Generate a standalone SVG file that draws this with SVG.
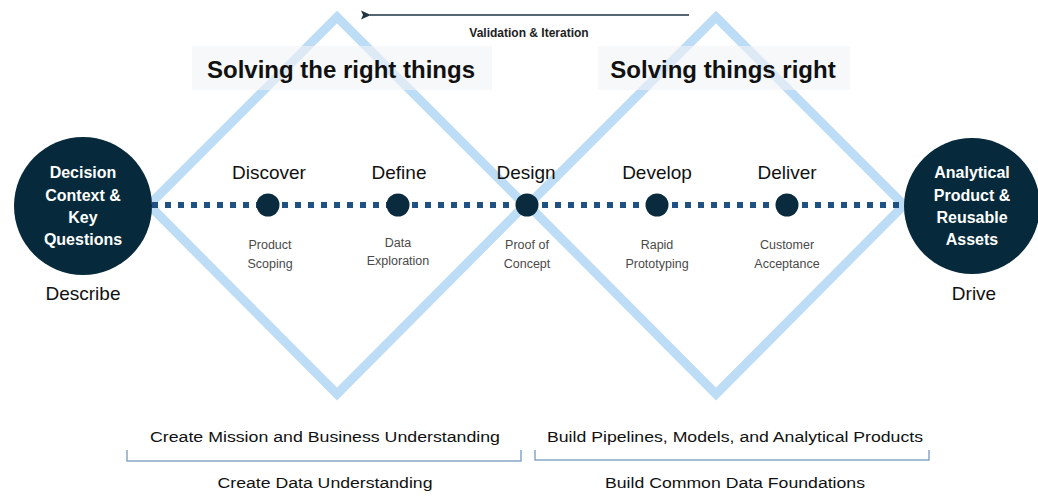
<svg xmlns="http://www.w3.org/2000/svg" width="1038" height="498" viewBox="0 0 1038 498">
<style>
text{font-family:"Liberation Sans",Arial,sans-serif;fill:#111;text-anchor:middle}
.diamond{fill:none;stroke:#bddcf6;stroke-width:9;stroke-linejoin:miter}
.titlebox{fill:#f1f4f7;opacity:0.6}
.title{font-size:24px;font-weight:bold}
.big{fill:#062a3b}
.bigtxt{fill:#fff;font-size:16px;font-weight:bold}
.dot{fill:#0a2a3d}
.phase{font-size:19px}
.sub{font-size:12.5px;fill:#4a4a4a}
.foot{font-size:19px}
.bottom{font-size:15.5px}
.bracket{fill:none;stroke:#86a6c6;stroke-width:1.5}
</style>
<defs>
<marker id="ah" viewBox="0 0 10 10" refX="1" refY="5" markerWidth="11" markerHeight="10" markerUnits="userSpaceOnUse" orient="auto">
<path d="M0,5 L10,0.5 L8,5 L10,9.5 Z" fill="#1e3544"/>
</marker>
</defs>
<rect width="1038" height="498" fill="#fff"/>
<g id="diamonds">
<polygon class="diamond" points="337,17 525,205 337,394 149,205"/>
<polygon class="diamond" points="716,17 904,205 716,394 528,205"/>
</g>
<g id="title-left">
<rect class="titlebox" x="192" y="46" width="300" height="44"/>
<text class="title" x="341" y="78">Solving the right things</text>
</g>
<g id="title-right">
<rect class="titlebox" x="598" y="46" width="252" height="44"/>
<text class="title" x="723" y="78">Solving things right</text>
</g>
<g id="connectors">
<line x1="152" y1="205" x2="905" y2="205" stroke="#1f5283" stroke-width="6" stroke-dasharray="6 7"/>
<line x1="689" y1="15" x2="370" y2="15" stroke="#1e3544" stroke-width="1.6" marker-end="url(#ah)"/>
<text x="529" y="37" style="font-size:12px;font-weight:bold;fill:#222">Validation &amp; Iteration</text>
</g>
<g id="node-describe">
<circle class="big" cx="83" cy="206" r="69"/>
<text class="bigtxt" x="83" y="178">Decision</text>
<text class="bigtxt" x="83" y="201">Context &amp;</text>
<text class="bigtxt" x="83" y="223">Key</text>
<text class="bigtxt" x="83" y="245">Questions</text>
<text class="foot" x="83" y="300">Describe</text>
</g>
<g id="node-drive">
<circle class="big" cx="972" cy="206" r="68"/>
<text class="bigtxt" x="972" y="178">Analytical</text>
<text class="bigtxt" x="972" y="201">Product &amp;</text>
<text class="bigtxt" x="972" y="223">Reusable</text>
<text class="bigtxt" x="972" y="245">Assets</text>
<text class="foot" x="974" y="300">Drive</text>
</g>
<g id="node-discover">
<circle class="dot" cx="268" cy="205" r="11.5"/>
<text class="phase" x="269" y="179">Discover</text>
<text class="sub" x="270" y="249">Product</text>
<text class="sub" x="270" y="268">Scoping</text>
</g>
<g id="node-define">
<circle class="dot" cx="398" cy="205" r="11.5"/>
<text class="phase" x="399" y="179">Define</text>
<text class="sub" x="398" y="247">Data</text>
<text class="sub" x="398" y="265">Exploration</text>
</g>
<g id="node-design">
<circle class="dot" cx="527" cy="205" r="11.5"/>
<text class="phase" x="526" y="179">Design</text>
<text class="sub" x="527" y="249">Proof of</text>
<text class="sub" x="527" y="268">Concept</text>
</g>
<g id="node-develop">
<circle class="dot" cx="657" cy="205" r="11.5"/>
<text class="phase" x="657" y="179">Develop</text>
<text class="sub" x="657" y="249">Rapid</text>
<text class="sub" x="657" y="268">Prototyping</text>
</g>
<g id="node-deliver">
<circle class="dot" cx="787" cy="205" r="11.5"/>
<text class="phase" x="787" y="179">Deliver</text>
<text class="sub" x="787" y="249">Customer</text>
<text class="sub" x="787" y="268">Acceptance</text>
</g>
<g id="bottom-left">
<text class="bottom" x="325" y="442" textLength="350" lengthAdjust="spacingAndGlyphs">Create Mission and Business Understanding</text>
<path class="bracket" d="M127,450 V461 H521 V450"/>
<text class="bottom" x="325" y="488" textLength="215" lengthAdjust="spacingAndGlyphs">Create Data Understanding</text>
</g>
<g id="bottom-right">
<text class="bottom" x="735" y="442" textLength="376" lengthAdjust="spacingAndGlyphs">Build Pipelines, Models, and Analytical Products</text>
<path class="bracket" d="M535,450 V460 H929 V450"/>
<text class="bottom" x="735" y="488" textLength="260" lengthAdjust="spacingAndGlyphs">Build Common Data Foundations</text>
</g>
</svg>
